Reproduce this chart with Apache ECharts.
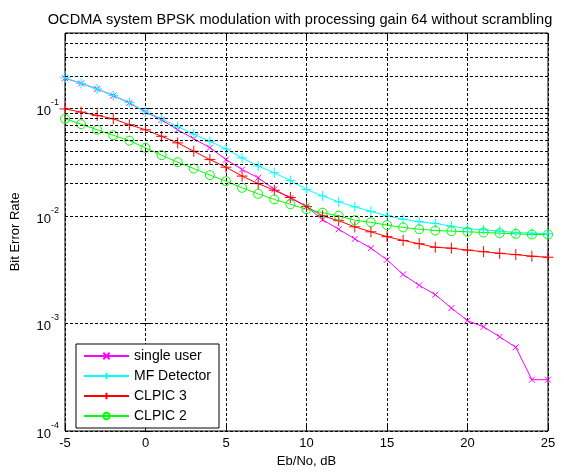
<!DOCTYPE html>
<html>
<head>
<meta charset="utf-8">
<script src="https://cdn.jsdelivr.net/npm/echarts@6/dist/echarts.min.js"></script>
<style>
  html, body { margin: 0; padding: 0; background: #fff; }
  #main { width: 564px; height: 473px; }
</style>
</head>
<body>
<div id="main"></div>
<script>
// Eb/No in dB, one point per dB
var ebno = [-5, -4, -3, -2, -1, 0, 1, 2, 3, 4, 5, 6, 7, 8, 9, 10, 11, 12, 13, 14, 15,
            16, 17, 18, 19, 20, 21, 22, 23, 24, 25];

var singleUser = [0.190, 0.170, 0.151, 0.131, 0.112, 0.092, 0.078, 0.063, 0.052, 0.043,
                  0.0333, 0.0269, 0.0226, 0.0176, 0.0146, 0.0122, 0.0092, 0.0075, 0.0061, 0.0050,
                  0.0039, 0.00285, 0.00226, 0.00185, 0.00139, 0.00106, 0.00093, 0.00075, 0.00060, 0.00030,
                  0.00030];
var mfDetector = [0.192, 0.170, 0.151, 0.131, 0.113, 0.0925, 0.0796, 0.0672, 0.0575, 0.0492,
                  0.0418, 0.0345, 0.029, 0.0251, 0.0213, 0.0176, 0.0153, 0.0135, 0.0121, 0.011,
                  0.0100, 0.0093, 0.0088, 0.0085, 0.0080, 0.0076, 0.0074, 0.0072, 0.0070, 0.0069,
                  0.0068];
var clpic3 = [0.0985, 0.092, 0.0857, 0.0797, 0.0702, 0.063, 0.0548, 0.0476, 0.0398, 0.0333,
              0.0283, 0.0234, 0.0199, 0.0173, 0.0148, 0.0122, 0.0100, 0.0090, 0.0079, 0.0071,
              0.0064, 0.0059, 0.0055, 0.0051, 0.0050, 0.0048, 0.00464, 0.00448, 0.00436, 0.00421,
              0.00412];
var clpic2 = [0.0797, 0.0711, 0.063, 0.056, 0.0499, 0.0428, 0.0366, 0.0315, 0.0275, 0.0239,
              0.021, 0.0182, 0.016, 0.0142, 0.0128, 0.0115, 0.0107, 0.0100, 0.0091, 0.0087,
              0.0082, 0.0078, 0.0075, 0.0073, 0.0072, 0.0071, 0.0070, 0.0069, 0.0068, 0.0067,
              0.0067];

// log minor grid lines
var minorGrid = [2e-4, 3e-4, 4e-4, 5e-4, 6e-4, 7e-4, 8e-4, 9e-4,
                 2e-3, 3e-3, 4e-3, 5e-3, 6e-3, 7e-3, 8e-3, 9e-3,
                 2e-2, 3e-2, 4e-2, 5e-2, 6e-2, 7e-2, 8e-2, 9e-2,
                 0.2, 0.3, 0.4];

var font = 'Liberation Sans, Arial, Helvetica, sans-serif';
var dash = [3, 2];

function pairs(ys) {
    return ys.map(function (y, i) { return [ebno[i], y]; });
}

var crossX = 'path://M0,0L10,10M10,0L0,10';
var plus = 'path://M5,0L5,10M0,5L10,5';

function lineSeries(name, ys, color, symbol, size) {
    return {
        name: name,
        type: 'line',
        data: pairs(ys),
        symbol: symbol,
        symbolSize: size,
        showAllSymbol: true,
        lineStyle: { color: color, width: 1 },
        itemStyle: { color: 'transparent', borderColor: color, borderWidth: 1 },
        emphasis: { disabled: true },
        animation: false
    };
}

var myChart = echarts.init(document.getElementById('main'));
myChart.setOption({
    backgroundColor: '#fff',
    animation: false,
    title: {
        text: 'OCDMA system BPSK modulation with processing gain 64 without scrambling',
        left: 295, top: 7, textAlign: 'center',
        textStyle: { fontFamily: font, fontSize: 14.6, fontWeight: 'normal', color: '#000' }
    },
    grid: { left: 65, right: 16, top: 33, bottom: 38, show: true, borderColor: '#000', borderWidth: 1 },
    legend: {
        orient: 'vertical',
        left: 76, top: 344,
        data: ['single user', 'MF Detector', 'CLPIC 3', 'CLPIC 2'],
        itemWidth: 45, itemHeight: 8, itemGap: 6,
        padding: [5, 8, 5, 7],
        backgroundColor: '#fff',
        borderColor: '#000', borderWidth: 1,
        textStyle: { fontFamily: font, fontSize: 14, color: '#000' },
        selectedMode: false
    },
    xAxis: [{
        type: 'value', min: -5, max: 25, interval: 5,
        name: 'Eb/No, dB', nameLocation: 'middle', nameGap: 24,
        nameTextStyle: { fontFamily: font, fontSize: 13, color: '#000' },
        axisLine: { show: false },
        axisTick: { inside: true, length: 5, lineStyle: { color: '#000' } },
        axisLabel: { fontFamily: font, fontSize: 13, color: '#000', margin: 6 },
        splitLine: { show: true, lineStyle: { color: '#000', type: dash } }
    }, {
        type: 'value', min: -5, max: 25, interval: 5, position: 'top',
        axisLine: { show: false },
        axisTick: { inside: true, length: 5, lineStyle: { color: '#000' } },
        axisLabel: { show: false },
        splitLine: { show: false }
    }],
    yAxis: [{
        type: 'log', logBase: 10, min: 1e-4, max: 0.5,
        name: 'Bit Error Rate', nameLocation: 'middle', nameGap: 43,
        nameTextStyle: { fontFamily: font, fontSize: 13, color: '#000' },
        axisLine: { show: false },
        axisTick: { inside: true, length: 5, lineStyle: { color: '#000' } },
        axisLabel: {
            margin: 6,
            formatter: function (v) {
                var e = Math.round(Math.log10(v));
                if (Math.abs(Math.log10(v) - e) > 1e-6) return '';
                return '{b|10}{s|' + e + '}';
            },
            rich: {
                b: { fontFamily: font, fontSize: 13, color: '#000', lineHeight: 20, verticalAlign: 'bottom' },
                s: { fontFamily: font, fontSize: 9, color: '#000', lineHeight: 20, verticalAlign: 'top' }
            }
        },
        splitLine: { show: true, lineStyle: { color: '#000', type: dash } }
    }, {
        type: 'log', logBase: 10, min: 1e-4, max: 0.5, position: 'right',
        axisLine: { show: false },
        axisTick: { inside: true, length: 5, lineStyle: { color: '#000' } },
        axisLabel: { show: false },
        splitLine: { show: false }
    }],
    series: [
        {
            name: 'minor grid',
            type: 'line',
            data: [],
            silent: true,
            markLine: {
                silent: true,
                symbol: 'none',
                label: { show: false },
                animation: false,
                lineStyle: { color: '#000', type: dash, width: 1 },
                data: minorGrid.map(function (v) { return { yAxis: v }; })
            }
        },
        lineSeries('single user', singleUser, '#ff00ff', crossX, 6),
        lineSeries('MF Detector', mfDetector, '#00ffff', plus, 10),
        lineSeries('CLPIC 3', clpic3, '#ff0000', plus, 11),
        lineSeries('CLPIC 2', clpic2, '#00ff00', 'circle', 9)
    ]
});
</script>
</body>
</html>
